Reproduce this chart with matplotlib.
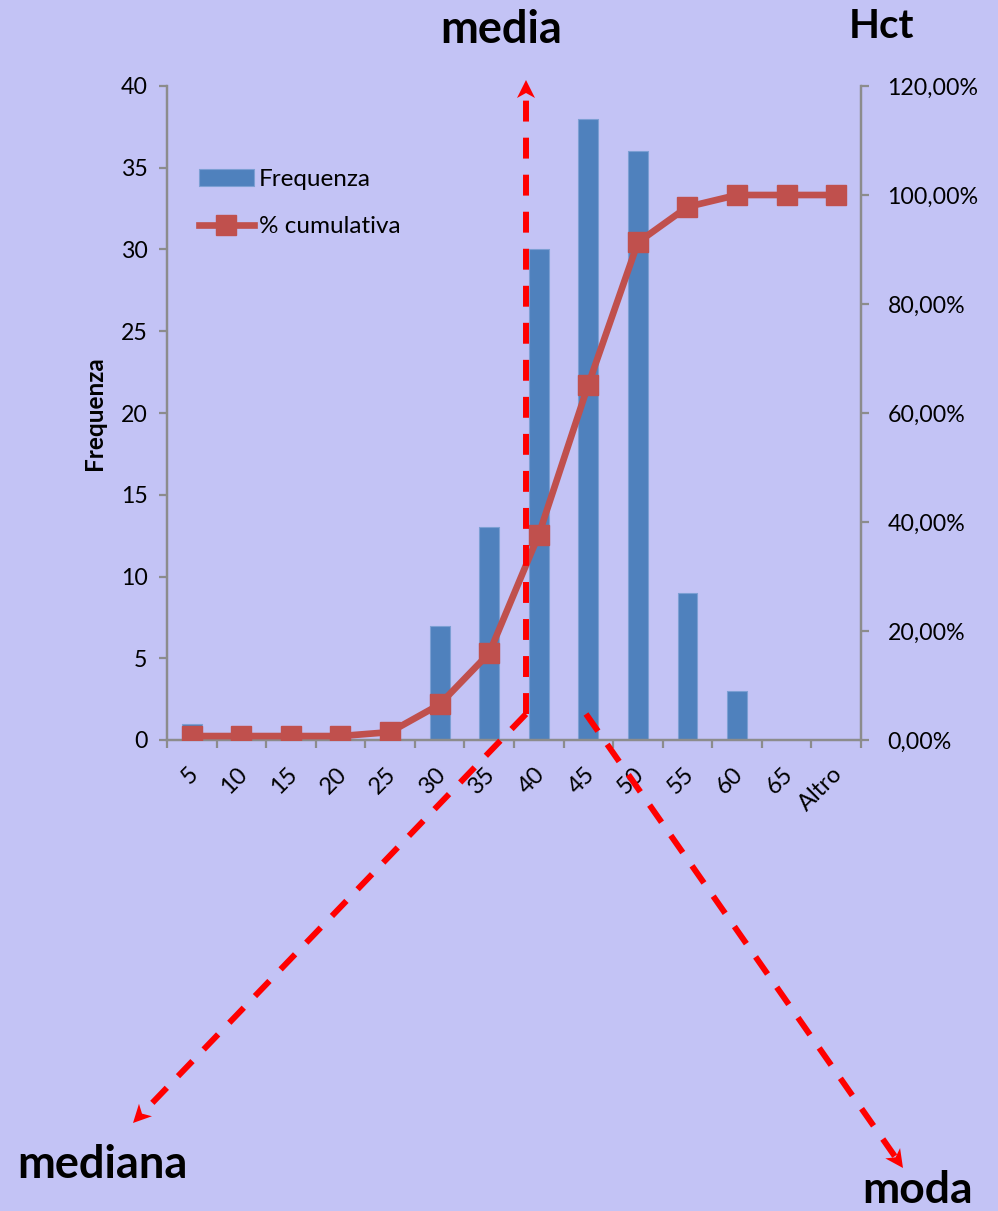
import numpy as np
import matplotlib
matplotlib.use("Agg")
import matplotlib.pyplot as plt
from matplotlib.lines import Line2D
from matplotlib.patches import Polygon
from matplotlib.ticker import FixedLocator, FuncFormatter, NullFormatter
import matplotlib.transforms as mtransforms

# Hct histogram data (Excel-style bins, upper bound of each class)
categories = ["5", "10", "15", "20", "25", "30", "35", "40", "45", "50", "55", "60", "65", "Altro"]
frequency = [1, 0, 0, 0, 1, 7, 13, 30, 38, 36, 9, 3, 0, 0]
left_ticks = [0, 5, 10, 15, 20, 25, 30, 35, 40]
right_ticks = [0.0, 0.2, 0.4, 0.6, 0.8, 1.0, 1.2]

BG = "#C3C3F5"
BAR = "#4F81BD"
LINE = "#C0504D"
AXIS = "#8C8C8C"
FONT = ["Lato", "DejaVu Sans"]

plt.rcParams["font.family"] = FONT

W, H = 998, 1211
fig = plt.figure(figsize=(W / 100, H / 100), dpi=100, facecolor=BG)

ax = fig.add_axes([167 / W, 471 / H, 694 / W, 654 / H])
ax.set_facecolor(BG)
x = np.arange(len(categories))
freq = np.array(frequency, dtype=float)
cum = np.cumsum(freq) / freq.sum()

ax.bar(x, freq, width=0.4, color=BAR, edgecolor="#7C9FD3", linewidth=0.8, zorder=2,
       label="Frequenza")
ax.set_xlim(-0.5, len(categories) - 0.5)
ax.set_ylim(0, 40)

ax2 = ax.twinx()
ax2.plot(x, cum, color=LINE, lw=4.8, marker="s", markersize=14.5,
         markerfacecolor=LINE, markeredgecolor=LINE, zorder=3, label="% cumulativa")
ax2.set_ylim(0, 1.2)

# spines
for a in (ax, ax2):
    a.spines["top"].set_visible(False)
    for s in ("left", "right", "bottom"):
        a.spines[s].set_color(AXIS)
        a.spines[s].set_linewidth(1.6)

# y axes
ax.yaxis.set_major_locator(FixedLocator(left_ticks))
ax.tick_params(axis="y", direction="out", length=6, width=1.6, color=AXIS,
               labelsize=16.7, pad=8)
ax2.yaxis.set_major_locator(FixedLocator(right_ticks))
ax2.yaxis.set_major_formatter(FuncFormatter(lambda v, p: f"{v * 100:.2f}%".replace(".", ",")))
ax2.tick_params(axis="y", direction="out", length=6, width=1.6, color=AXIS,
                labelsize=16.7, pad=13)

# x axis: tick marks on class boundaries, labels on class centres
ax.xaxis.set_major_locator(FixedLocator(np.arange(-0.5, len(categories), 1.0)))
ax.xaxis.set_major_formatter(NullFormatter())
ax.xaxis.set_minor_locator(FixedLocator(x))
ax.set_xticklabels(categories, minor=True)
ax.tick_params(axis="x", which="major", direction="out", length=6, width=1.6, color=AXIS)
ax.tick_params(axis="x", which="minor", length=0, labelsize=17, pad=22)
shift = mtransforms.ScaledTranslation(3 / 100, 0, fig.dpi_scale_trans)
for lab in ax.get_xticklabels(minor=True):
    lab.set_rotation(45)
    lab.set_rotation_mode("anchor")
    lab.set_ha("right")
    lab.set_va("center")
    lab.set_transform(lab.get_transform() + shift)

fig.text(94 / W, 1 - 413 / H, "Frequenza", rotation=90, ha="center", va="center",
         fontsize=17.5, fontweight="bold")

# legend
handles = [ax.containers[0], ax2.get_lines()[0]]
ax2.legend(handles, ["Frequenza", "% cumulativa"], loc="upper left",
           bbox_to_anchor=((199 - 167) / 694, (740 - 169) / 654),
           frameon=False, fontsize=17.5, borderpad=0, borderaxespad=0,
           handlelength=2.25, handletextpad=0.2, labelspacing=1.08,
           handleheight=0.7)


def px(p):
    return (p[0] / W, 1 - p[1] / H)


def dashed_arrow(p0, p1, head=18.0, half=9.0, notch=5.0):
    p0 = np.array(p0, float)
    p1 = np.array(p1, float)
    d = p1 - p0
    d /= np.hypot(*d)
    n = np.array([-d[1], d[0]])
    end = p1 - d * (head - notch)
    ln = Line2D([p0[0] / W, end[0] / W], [1 - p0[1] / H, 1 - end[1] / H],
                transform=fig.transFigure, color="#FF0000", lw=4.3,
                dashes=(3.5, 2.7), solid_capstyle="butt", zorder=5)
    fig.add_artist(ln)
    base = p1 - d * head
    pts = [p1, base + n * half, p1 - d * (head - notch), base - n * half]
    fig.add_artist(Polygon([px(p) for p in pts], closed=True, transform=fig.transFigure,
                           facecolor="#FF0000", edgecolor="none", zorder=5))


dashed_arrow((526, 714), (526, 80))
dashed_arrow((526, 714), (133, 1123))
dashed_arrow((586, 714), (903, 1168))

title_kw = dict(fontweight="bold", ha="center", va="baseline")
fig.text(501 / W, 1 - 43 / H, "media", fontsize=32.5, **title_kw)
fig.text(882 / W, 1 - 38 / H, "Hct", fontsize=29, **title_kw)
fig.text(102 / W, 1 - 1178 / H, "mediana", fontsize=32.5, **title_kw)
fig.text(918 / W, 1 - 1203 / H, "moda", fontsize=32, **title_kw)

fig.savefig("out.png", dpi=100, facecolor=BG)
